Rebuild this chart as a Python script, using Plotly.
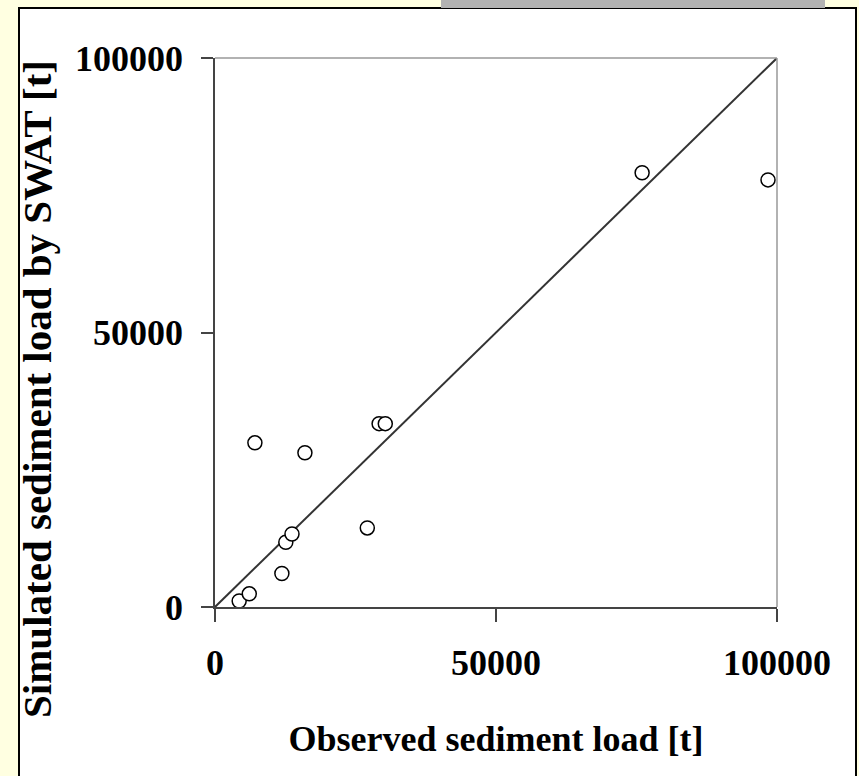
import plotly.graph_objects as go

# Data
observed = [4300, 6100, 7100, 11900, 12600, 13700, 16000, 27100, 29200, 30300, 76000, 98400]
simulated = [1100, 2400, 29900, 6100, 11800, 13300, 28100, 14400, 33400, 33400, 79100, 77800]
line_x = [0, 100000]
line_y = [0, 100000]
tick_vals = [0, 50000, 100000]
tick_text = ["0", "50000", "100000"]

W, H = 859, 776
L, R, T, B = 215, 82, 58, 169
pw, ph = W - L - R, H - T - B

def px(x):
    return (x - L) / pw

def py(y):
    return (H - B - y) / ph

FONT = "Liberation Serif, Times New Roman, serif"

fig = go.Figure()
fig.add_trace(go.Scatter(x=line_x, y=line_y, mode="lines",
                         line=dict(color="#333333", width=2), showlegend=False,
                         hoverinfo="skip"))
fig.add_trace(go.Scatter(x=observed, y=simulated, mode="markers",
                         marker=dict(symbol="circle", size=14, color="white",
                                     line=dict(color="black", width=1.5)),
                         showlegend=False))

shapes = [
    # white panel
    dict(type="rect", xref="paper", yref="paper", x0=px(19), x1=px(856),
         y0=py(800), y1=py(8), fillcolor="white", line=dict(color="black", width=2),
         layer="below"),
    # gray bar at top
    dict(type="rect", xref="paper", yref="paper", x0=px(441), x1=px(825),
         y0=py(8), y1=py(-2), fillcolor="#b2b2b2", line=dict(width=0), layer="below"),
    # top and right frame of plot area
    dict(type="line", xref="paper", yref="paper", x0=0, x1=1, y0=1, y1=1,
         line=dict(color="#999999", width=1.5)),
    dict(type="line", xref="paper", yref="paper", x0=1, x1=1, y0=0, y1=1,
         line=dict(color="#999999", width=1.5)),
]

fig.update_layout(
    width=W, height=H,
    margin=dict(l=L, r=R, t=T, b=B, pad=0),
    paper_bgcolor="#ffffe1",
    plot_bgcolor="white",
    shapes=shapes,
    font=dict(family=FONT, color="black"),
    xaxis=dict(range=[0, 100000], tickvals=tick_vals, ticktext=tick_text,
               showgrid=False, zeroline=False, showline=True, linecolor="#444444",
               linewidth=1.5, ticks="outside", ticklen=13, tickcolor="#444444",
               tickwidth=1.5, ticklabelstandoff=10,
               tickfont=dict(family=FONT, size=36, color="black", weight="bold"),
               title=dict(text="<b>Observed sediment load [t]</b>", standoff=44,
                          font=dict(family=FONT, size=36, color="black"))),
    yaxis=dict(range=[0, 100000], tickvals=tick_vals, ticktext=tick_text,
               showgrid=False, zeroline=False, showline=True, linecolor="#444444",
               linewidth=1.5, ticks="outside", ticklen=12, tickcolor="#444444",
               tickwidth=1.5, ticklabelstandoff=11,
               tickfont=dict(family=FONT, size=36, color="black", weight="bold")),
    annotations=[dict(text="<b>Simulated sediment load by SWAT [t]</b>",
                      xref="paper", yref="paper", x=px(37), y=py(389),
                      xanchor="center", yanchor="middle", textangle=-90,
                      showarrow=False,
                      font=dict(family=FONT, size=41, color="black"))],
)

fig.write_html("out.html",
               config={"displayModeBar": False},
               post_script="document.body.style.margin='0';"
                           "document.body.style.background='#ffffe1';")
